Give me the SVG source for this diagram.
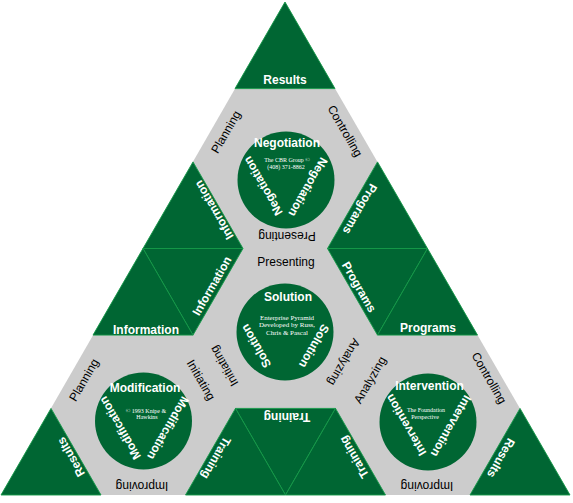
<svg xmlns="http://www.w3.org/2000/svg" width="573" height="503" viewBox="0 0 573 503">
<style>
.bg{fill:#cccccc}
.tri{fill:#006633;stroke:#159a48;stroke-width:0.9;stroke-linejoin:miter}
.cir{fill:#006633}
.w{font-family:"Liberation Sans",Arial,sans-serif;font-size:12px;font-weight:bold;fill:#ffffff;text-anchor:middle}
.k{font-family:"Liberation Sans",Arial,sans-serif;font-size:12px;fill:#000000;text-anchor:middle}
.c{font-family:"Liberation Serif","Times New Roman",serif;font-size:6px;fill:#ffffff;text-anchor:middle}
.c7{font-family:"Liberation Serif","Times New Roman",serif;font-size:7px;fill:#ffffff;text-anchor:middle}
</style>
<rect width="573" height="503" fill="#ffffff"/>
<polygon class="bg" points="285,2 1,495 570,495"/>

<g id="corners">
  <g id="t1"><polygon class="tri" points="285,2 235,88.6 335,88.6"/><text class="w" transform="translate(285,79.5)" y="4">Results</text></g>
  <g id="t2"><polygon class="tri" points="143,248.5 193,161.9 243,248.5"/><text class="w" transform="translate(214,210) rotate(240)" y="4">Information</text></g>
  <g id="t3"><polygon class="tri" points="427.5,248.5 377.5,161.9 327.5,248.5"/><text class="w" transform="translate(360,209) rotate(120)" y="4">Programs</text></g>
  <g id="t4"><polygon class="tri" points="143,248.5 243,248.5 193,335.1"/><text class="w" transform="translate(212,286) rotate(-60)" y="4">Information</text></g>
  <g id="t5"><polygon class="tri" points="427.5,248.5 327.5,248.5 377.5,335.1"/><text class="w" transform="translate(359,287) rotate(60)" y="4">Programs</text></g>
  <g id="t6"><polygon class="tri" points="285.5,495 235.5,408.4 335.5,408.4"/><text class="w" transform="translate(287,417) rotate(180)" y="4">Training</text></g>
  <g id="t7"><polygon class="tri" points="143,248.5 93,335.1 193,335.1"/><text class="w" transform="translate(146,329.5)" y="4">Information</text></g>
  <g id="t8"><polygon class="tri" points="1,495 101,495 51,408.4"/><text class="w" transform="translate(71,457) rotate(240)" y="4">Results</text></g>
  <g id="t9"><polygon class="tri" points="285.5,495 185.5,495 235.5,408.4"/><text class="w" transform="translate(216,458) rotate(120)" y="4">Training</text></g>
  <g id="t10"><polygon class="tri" points="427.5,248.5 377.5,335.1 477.5,335.1"/><text class="w" transform="translate(428,328)" y="4">Programs</text></g>
  <g id="t11"><polygon class="tri" points="285.5,495 385.5,495 335.5,408.4"/><text class="w" transform="translate(354,457) rotate(240)" y="4">Training</text></g>
  <g id="t12"><polygon class="tri" points="570,495 470,495 520,408.4"/><text class="w" transform="translate(501,458) rotate(120)" y="4">Results</text></g>
</g>

<g id="edge-labels">
  <text class="k" transform="translate(226,132) rotate(-60)" y="4">Planning</text>
  <text class="k" transform="translate(345,131) rotate(60)" y="4">Controlling</text>
  <text class="k" transform="translate(287,236) rotate(180)" y="4">Presenting</text>
  <text class="k" transform="translate(286,262)" y="4">Presenting</text>
  <text class="k" transform="translate(344,362) rotate(120)" y="4">Analyzing</text>
  <text class="k" transform="translate(224,366) rotate(240)" y="4">Initiating</text>
  <text class="k" transform="translate(84,380) rotate(-60)" y="4">Planning</text>
  <text class="k" transform="translate(201,380) rotate(60)" y="4">Initiating</text>
  <text class="k" transform="translate(142,486) rotate(180)" y="4">Improving</text>
  <text class="k" transform="translate(370,380) rotate(-60)" y="4">Analyzing</text>
  <text class="k" transform="translate(489,378) rotate(60)" y="4">Controlling</text>
  <text class="k" transform="translate(427,486) rotate(180)" y="4">Improving</text>
</g>

<g id="negotiation">
  <circle class="cir" cx="286" cy="180" r="48.5"/>
  <text class="w" transform="translate(287,143)" y="4">Negotiation</text>
  <text class="w" transform="translate(263,186) rotate(240)" y="4">Negotiation</text>
  <text class="w" transform="translate(308,187) rotate(120)" y="4">Negotiation</text>
  <text class="c" x="287" y="162">The CBR Group ©</text>
  <text class="c" x="286" y="168.5">(408) 371-8862</text>
</g>

<g id="solution">
  <circle class="cir" cx="285" cy="332" r="48.5"/>
  <text class="w" transform="translate(288,297)" y="4">Solution</text>
  <text class="w" transform="translate(256,346) rotate(240)" y="4">Solution</text>
  <text class="w" transform="translate(314,346) rotate(120)" y="4">Solution</text>
  <text class="c7" x="287" y="319.5">Enterprise Pyramid</text>
  <text class="c7" x="287" y="327">Developed by Russ,</text>
  <text class="c7" x="287" y="334.5">Chris &amp; Pascal</text>
</g>

<g id="modification">
  <circle class="cir" cx="143.5" cy="421" r="48.5"/>
  <text class="w" transform="translate(145,388)" y="4">Modification</text>
  <text class="w" transform="translate(120,428) rotate(240)" y="4">Modification</text>
  <text class="w" transform="translate(168,428) rotate(120)" y="4">Modification</text>
  <text class="c" x="146" y="412.5">© 1993 Knipe &amp;</text>
  <text class="c" x="147" y="419">Hawkins</text>
</g>

<g id="intervention">
  <circle class="cir" cx="428" cy="422" r="48.5"/>
  <text class="w" transform="translate(429.5,386)" y="4">Intervention</text>
  <text class="w" transform="translate(406,425) rotate(240)" y="4">Intervention</text>
  <text class="w" transform="translate(451,426) rotate(120)" y="4">Intervention</text>
  <text class="c" x="426" y="412">The Foundation</text>
  <text class="c" x="425" y="419">Perspective</text>
</g>
</svg>
